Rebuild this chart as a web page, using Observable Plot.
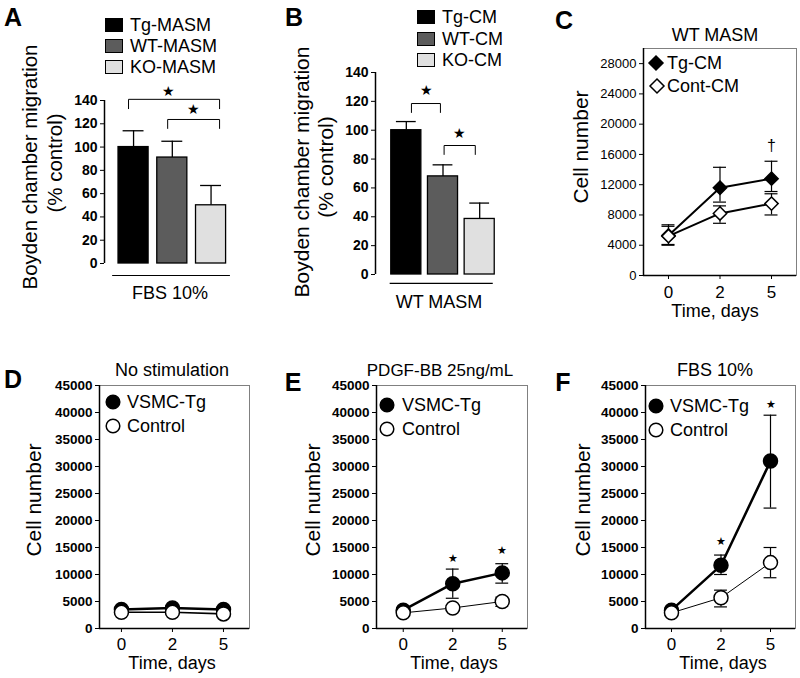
<!DOCTYPE html>
<html><head><meta charset="utf-8">
<script src="https://cdn.jsdelivr.net/npm/d3@7"></script>
<script src="https://cdn.jsdelivr.net/npm/@observablehq/plot@0.6"></script>
<style>
body{margin:0;background:#fff;}
#fig{position:relative;width:800px;height:678px;font-family:"Liberation Sans",Arial,sans-serif;color:#000;overflow:hidden;background:#fff}
.t{position:absolute;white-space:nowrap;line-height:1;font-weight:normal}
.p{position:absolute}
.box{position:absolute;border:1px solid #000;box-sizing:border-box}
</style></head><body><div id="fig"></div>
<script>
// ---------------- DATA ----------------
const aCategories = ["Tg-MASM", "WT-MASM", "KO-MASM"];
const aValues = [100, 91, 50];
const aErrors = [14, 14, 17];
const bCategories = ["Tg-CM", "WT-CM", "KO-CM"];
const bValues = [100, 68, 38.5];
const bErrors = [6, 8, 11];
const barFills = ["#000000", "#5c5c5c", "#e0e0e0"];
const barTicks = [0, 20, 40, 60, 80, 100, 120, 140];
// significance brackets (x in bar-index units, y in % control)
const aBrackets = [{from: -0.13, to: 2.22, top: 141, drop: 133}, {from: 0.88, to: 2.22, top: 123.7, drop: 116}];
const aStars = [{x: 0.9, y: 147.5}, {x: 1.55, y: 132}];
const bBrackets = [{from: 0.14, to: 0.93, top: 118.5, drop: 112.3}, {from: 1.03, to: 1.88, top: 89.4, drop: 83.2}];
const bStars = [{x: 0.54, y: 127.5}, {x: 1.44, y: 97.7}];

const days = ["0", "2", "5"];
// C: WT MASM
const cTgMean = [5300, 11600, 12800], cTgLow = [4000, 9700, 11100], cTgHigh = [6700, 14300, 15100];
const cContMean = [5200, 8200, 9500], cContLow = [4100, 6900, 8000], cContHigh = [6500, 9200, 10800];
const cTicks = [0, 4000, 8000, 12000, 16000, 20000, 24000, 28000];
const cDagger = [{i: 2, y: 17100}];
// D: No stimulation
const dTgMean = [3500, 3800, 3500], dTgLow = [3200, 3400, 3200], dTgHigh = [3800, 4200, 3800];
const dCtlMean = [3000, 3000, 2700], dCtlLow = [2700, 2700, 2400], dCtlHigh = [3300, 3300, 3000];
// E: PDGF-BB 25ng/mL
const eTgMean = [3400, 8300, 10300], eTgLow = [3000, 5600, 8400], eTgHigh = [3800, 11000, 12000];
const eCtlMean = [2900, 3800, 5000], eCtlLow = [2500, 3400, 4100], eCtlHigh = [3300, 4200, 5800];
const eStars = [{i: 1, y: 12900}, {i: 2, y: 14400}];
// F: FBS 10%
const fTgMean = [3400, 11700, 31000], fTgLow = [3000, 10000, 22300], fTgHigh = [3800, 13600, 39500];
const fCtlMean = [2900, 5700, 12200], fCtlLow = [2500, 4000, 9400], fCtlHigh = [3300, 7100, 15000];
const fStars = [{i: 1, y: 16100}, {i: 2, y: 41400}];
const cellTicks = [0, 5000, 10000, 15000, 20000, 25000, 30000, 35000, 40000, 45000];

// ---------------- HELPERS ----------------
const fig = document.getElementById("fig");
const FONT = '"Liberation Sans", Arial, sans-serif';
function place(node, left, top) {
  const d = document.createElement("div");
  d.className = "p"; d.style.left = left + "px"; d.style.top = top + "px";
  d.appendChild(node); fig.appendChild(d);
}
function txt(s, x, y, {size = 18, weight = "normal", anchor = "middle", rotate = 0} = {}) {
  const d = document.createElement("div");
  d.className = "t"; d.textContent = s;
  d.style.left = x + "px"; d.style.top = y + "px";
  d.style.fontSize = size + "px"; d.style.fontWeight = weight;
  const tx = anchor === "middle" ? "-50%" : anchor === "end" ? "-100%" : "0";
  d.style.transform = `translate(${tx},-50%)` + (rotate ? ` rotate(${rotate}deg)` : "");
  fig.appendChild(d);
}
function swatch(x, y, w, h, color) {
  const d = document.createElement("div");
  d.className = "box";
  Object.assign(d.style, {left: x + "px", top: y + "px", width: w + "px", height: h + "px", background: color});
  fig.appendChild(d);
}
function symbolKey(kind, filled, cx, cy) {
  const ns = "http://www.w3.org/2000/svg";
  const s = document.createElementNS(ns, "svg");
  s.setAttribute("width", 18); s.setAttribute("height", 18);
  s.style.position = "absolute"; s.style.left = (cx - 9) + "px"; s.style.top = (cy - 9) + "px";
  let el;
  if (kind === "circle") {
    el = document.createElementNS(ns, "circle");
    el.setAttribute("cx", 9); el.setAttribute("cy", 9); el.setAttribute("r", 6.8);
  } else {
    el = document.createElementNS(ns, "polygon");
    el.setAttribute("points", "9,2 16,9 9,16 2,9");
  }
  el.setAttribute("fill", filled ? "#000" : "#fff");
  el.setAttribute("stroke", "#000"); el.setAttribute("stroke-width", 1.5);
  s.appendChild(el); fig.appendChild(s);
}
const plotStyle = {fontFamily: FONT, fontSize: "13px", overflow: "visible", background: "transparent", color: "#000"};
const plain = d => String(d);

function bracketPoints(brackets) {
  return brackets.flatMap((b, k) => [
    {k, x: b.from, y: b.drop}, {k, x: b.from, y: b.top},
    {k, x: b.to, y: b.top}, {k, x: b.to, y: b.drop}
  ]);
}

function barPanel(cfg) {
  const data = cfg.cats.map((c, i) => ({i, c, v: cfg.vals[i], hi: cfg.vals[i] + cfg.errs[i], fill: barFills[i]}));
  const p = Plot.plot({
    width: cfg.width, height: cfg.height,
    marginLeft: cfg.mL, marginRight: cfg.mR, marginTop: cfg.mT, marginBottom: cfg.mB,
    x: {domain: cfg.xDomain, axis: null},
    y: {domain: [0, 140], axis: null},
    color: {type: "identity"},
    style: plotStyle,
    marks: [
      Plot.ruleX(data, {x: "i", y1: "v", y2: "hi", stroke: "#000", strokeWidth: 1.3}),
      Plot.ruleY(data, {y: "hi", x1: d => d.i - cfg.capW, x2: d => d.i + cfg.capW, stroke: "#000", strokeWidth: 1.3}),
      Plot.rectY(data, {x1: d => d.i - cfg.halfW, x2: d => d.i + cfg.halfW, y1: 0, y2: "v", fill: "fill", stroke: "#000", strokeWidth: 1.3}),
      Plot.ruleX([cfg.xDomain[0]], {y1: 0, y2: 140, stroke: "#000", strokeWidth: 1.5}),
      Plot.axisY({ticks: barTicks, tickFormat: plain, tickSize: 4, tickPadding: 3, fontSize: 14, fontWeight: "bold", label: null}),
      Plot.line(bracketPoints(cfg.brackets), {x: "x", y: "y", z: "k", stroke: "#000", strokeWidth: 1}),
      Plot.text(cfg.stars, {x: "x", y: "y", text: () => "★", fontSize: 14, fill: "#000"}),
      Plot.ruleY([cfg.group.y], {x1: cfg.group.x1, x2: cfg.group.x2, stroke: "#000", strokeWidth: 1.2})
    ]
  });
  place(p, cfg.left, cfg.top);
}

function seriesRows(mean, low, high) {
  return days.map((d, i) => ({i, day: d, mean: mean[i], low: low[i], high: high[i]}));
}

function linePanel(cfg) {
  const marks = [Plot.frame({stroke: "#808080", strokeWidth: 1})];
  for (const s of cfg.series) {
    const rows = seriesRows(s.mean, s.low, s.high);
    marks.push(
      Plot.ruleX(rows, {x: "i", y1: "low", y2: "high", stroke: "#000", strokeWidth: 1.2}),
      Plot.ruleY(rows, {y: "low", x1: d => d.i - cfg.cap, x2: d => d.i + cfg.cap, stroke: "#000", strokeWidth: 1.2}),
      Plot.ruleY(rows, {y: "high", x1: d => d.i - cfg.cap, x2: d => d.i + cfg.cap, stroke: "#000", strokeWidth: 1.2}),
      Plot.line(rows, {x: "i", y: "mean", stroke: "#000", strokeWidth: s.lineWidth}),
      Plot.dot(rows, {x: "i", y: "mean", symbol: s.symbol, r: s.r, fill: s.fill, stroke: "#000", strokeWidth: 1.5})
    );
  }
  if (cfg.notes) marks.push(Plot.text(cfg.notes, {x: "i", y: "y", text: () => cfg.noteText, fontSize: cfg.noteSize, fill: "#000"}));
  marks.push(
    Plot.ruleX([cfg.xDomain[0]], {stroke: "#000", strokeWidth: 1.5}),
    Plot.ruleY([cfg.yDomain[0]], {stroke: "#000", strokeWidth: 1.5}),
    Plot.axisY({ticks: cfg.yTicks, tickFormat: plain, tickSize: 4, tickPadding: 3, fontSize: cfg.bold ? 13.5 : 13, fontWeight: cfg.bold ? "bold" : "normal", label: null}),
    Plot.axisX({ticks: [0, 1, 2], tickFormat: i => days[i], tickSize: 4, tickPadding: cfg.xPad, fontSize: 17, fontWeight: "normal", label: null})
  );
  const p = Plot.plot({
    width: cfg.width, height: cfg.height,
    marginLeft: cfg.mL, marginRight: cfg.mR, marginTop: cfg.mT, marginBottom: cfg.mB,
    x: {domain: cfg.xDomain, axis: null},
    y: {domain: cfg.yDomain, axis: null},
    style: plotStyle,
    marks
  });
  place(p, cfg.left, cfg.top);
}

// ---------------- PANELS ----------------
barPanel({left: 0, top: 0, width: 265, height: 310, mL: 104, mR: 25, mT: 100, mB: 47,
  xDomain: [-0.75, 2.76], cats: aCategories, vals: aValues, errs: aErrors, halfW: 0.388, capW: 0.27,
  brackets: aBrackets, stars: aStars, group: {y: -10.3, x1: -0.54, x2: 2.5}});
barPanel({left: 260, top: 0, width: 270, height: 320, mL: 115, mR: 20, mT: 72, mB: 46,
  xDomain: [-0.84, 2.84], cats: bCategories, vals: bValues, errs: bErrors, halfW: 0.41, capW: 0.27,
  brackets: bBrackets, stars: bStars, group: {y: -6.2, x1: -0.44, x2: 2.37}});

linePanel({left: 530, top: 0, width: 270, height: 320, mL: 113, mR: 4, mT: 48, mB: 45,
  xDomain: [-0.485, 2.485], yDomain: [0, 30000], yTicks: cTicks, bold: false, cap: 0.126, xPad: 6,
  series: [
    {mean: cTgMean, low: cTgLow, high: cTgHigh, symbol: "diamond2", r: 6, fill: "#000", lineWidth: 2},
    {mean: cContMean, low: cContLow, high: cContHigh, symbol: "diamond2", r: 6, fill: "#fff", lineWidth: 2}
  ], notes: cDagger, noteText: "†", noteSize: 16});

const tgC = (m, l, h) => ({mean: m, low: l, high: h, symbol: "circle", r: 7, fill: "#000", lineWidth: 2.5});
const ctC = (m, l, h, w) => ({mean: m, low: l, high: h, symbol: "circle", r: 7, fill: "#fff", lineWidth: w});
linePanel({left: 0, top: 320, width: 265, height: 358, mL: 99, mR: 16, mT: 65, mB: 50,
  xDomain: [-0.43, 2.51], yDomain: [0, 45000], yTicks: cellTicks, bold: true, cap: 0.13, xPad: 5,
  series: [tgC(dTgMean, dTgLow, dTgHigh), ctC(dCtlMean, dCtlLow, dCtlHigh, 1.6)]});
linePanel({left: 260, top: 320, width: 270, height: 358, mL: 116, mR: 3, mT: 65, mB: 50,
  xDomain: [-0.54, 2.51], yDomain: [0, 45000], yTicks: cellTicks, bold: true, cap: 0.13, xPad: 5,
  series: [tgC(eTgMean, eTgLow, eTgHigh), ctC(eCtlMean, eCtlLow, eCtlHigh, 1)],
  notes: eStars, noteText: "★", noteSize: 11});
linePanel({left: 530, top: 320, width: 270, height: 358, mL: 115, mR: 5, mT: 65, mB: 50,
  xDomain: [-0.525, 2.505], yDomain: [0, 45000], yTicks: cellTicks, bold: true, cap: 0.13, xPad: 5,
  series: [tgC(fTgMean, fTgLow, fTgHigh), ctC(fCtlMean, fCtlLow, fCtlHigh, 1)],
  notes: fStars, noteText: "★", noteSize: 11});

// ---------------- TEXT, LEGENDS ----------------
[["A", 13, 17], ["B", 294, 17], ["C", 564, 20], ["D", 13, 379], ["E", 293, 382], ["F", 563, 382]]
  .forEach(([s, x, y]) => txt(s, x, y, {size: 25, weight: "bold"}));
aCategories.forEach((c, i) => { swatch(105, 18 + i * 21, 18, 14, barFills[i]); txt(c, 130, 25 + i * 21, {anchor: "start"}); });
bCategories.forEach((c, i) => { swatch(417, 10 + i * 21.7, 18, 14, barFills[i]); txt(c, 442, 17 + i * 21.7, {anchor: "start"}); });
txt("Boyden chamber migration", 30, 167, {size: 20.5, rotate: -90});
txt("(% control)", 55, 163, {size: 20.5, rotate: -90});
txt("Boyden chamber migration", 301, 172, {size: 21, rotate: -90});
txt("(% control)", 325, 167, {size: 21, rotate: -90});
txt("FBS 10%", 170, 293);
txt("WT MASM", 439, 302);
txt("WT MASM", 715, 35);
txt("Cell number", 580, 147, {size: 21, rotate: -90});
txt("Time, days", 715, 311);
symbolKey("diamond", true, 656, 63); txt("Tg-CM", 667, 63, {anchor: "start"});
symbolKey("diamond", false, 657, 86); txt("Cont-CM", 667, 86, {anchor: "start"});
const lower = [
  {title: "No stimulation", tx: 172, lx: 33, ax: 172, kx: 113, ky: 402, ty: 127},
  {title: "PDGF-BB 25ng/mL", tx: 440, lx: 312, ax: 454, kx: 387, ky: 405, ty: 402},
  {title: "FBS 10%", tx: 715, lx: 582, ax: 723, kx: 656, ky: 406, ty: 670}
];
lower.forEach(p => {
  txt(p.title, p.tx, 370, {size: p.title.length > 14 ? 17 : 18});
  txt("Cell number", p.lx, 500, {size: 21, rotate: -90});
  txt("Time, days", p.ax, 663);
  symbolKey("circle", true, p.kx, p.ky); txt("VSMC-Tg", p.ty, p.ky, {anchor: "start"});
  symbolKey("circle", false, p.kx, p.ky + 24); txt("Control", p.ty, p.ky + 24, {anchor: "start"});
});
</script></body></html>
